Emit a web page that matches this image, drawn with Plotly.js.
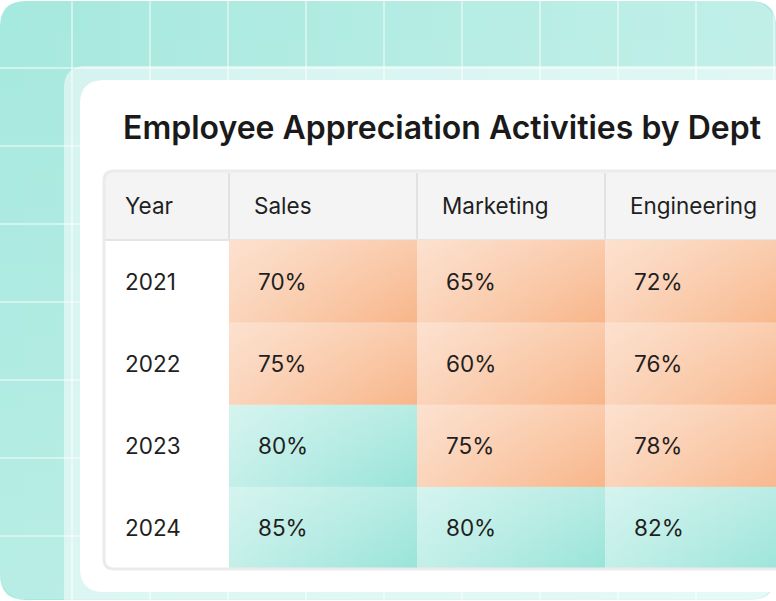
<!DOCTYPE html>
<html>
<head>
<meta charset="utf-8">
<script src="https://cdn.plot.ly/plotly-3.0.1.min.js"></script>
<style>html,body{margin:0;padding:0;background:#fff;}#chart{width:776px;height:601px;}</style>
</head>
<body>
<div id="chart"></div>
<script>
// ---- data ----
const chartTitle = "Employee Appreciation Activities by Dept";
const firstHeader = "Year";
const departments = ["Sales", "Marketing", "Engineering"];
const years = ["2021", "2022", "2023", "2024"];
const sales = [70, 75, 80, 85];
const marketing = [65, 60, 75, 80];
const engineering = [72, 76, 78, 82];

// ---- styling / geometry ----
const W = 776, H = 601;
const ORANGE = "#f8b68a", TEAL = "#99e4d9";
const FONT = "Inter, 'DejaVu Sans', sans-serif";
const TXT = "#1f1f1f";
const BODY_SIZE = 22.5;
const colW = 188;
const tbl = {left: 104, top: 171, headBottom: 240, bottom: 569, firstColRight: 229};

function P(x, y) { return (x / W).toFixed(5) + "," + (1 - y / H).toFixed(5); }
function rr(x0, y0, x1, y1, a, b, c, d) {
  return "M" + P(x0 + a, y0) + " L" + P(x1 - b, y0) + " Q" + P(x1, y0) + " " + P(x1, y0 + b) +
    " L" + P(x1, y1 - c) + " Q" + P(x1, y1) + " " + P(x1 - c, y1) +
    " L" + P(x0 + d, y1) + " Q" + P(x0, y1) + " " + P(x0, y1 - d) +
    " L" + P(x0, y0 + a) + " Q" + P(x0, y0) + " " + P(x0 + a, y0) + " Z";
}
function poly(pts) { return "M" + pts.map(p => P(p[0], p[1])).join(" L") + " Z"; }
function pathShape(p, fill, layer, line) {
  return {type: "path", xref: "paper", yref: "paper", path: p, fillcolor: fill,
    line: line || {width: 0}, layer: layer || "below"};
}
function lineShape(x0, y0, x1, y1, color, width, layer) {
  return {type: "line", xref: "paper", yref: "paper", x0: x0 / W, x1: x1 / W,
    y0: 1 - y0 / H, y1: 1 - y1 / H, line: {color: color, width: width}, layer: layer || "below"};
}

const shapes = [];
// ---- outer teal backdrop with a soft diagonal sheen ----
const BG = {x0: 0, y0: 1, x1: 776, y1: 600, r: 26};
function cornerOff(d) { return d <= 0 ? 0 : BG.r - Math.sqrt(Math.max(0, BG.r * BG.r - d * d)); }
function offAtX(x) { return cornerOff(x < BG.x0 + BG.r ? BG.x0 + BG.r - x : (x > BG.x1 - BG.r ? x - (BG.x1 - BG.r) : 0)); }
function offAtY(y) { return cornerOff(y < BG.y0 + BG.r ? BG.y0 + BG.r - y : (y > BG.y1 - BG.r ? y - (BG.y1 - BG.r) : 0)); }
shapes.push(pathShape(rr(BG.x0, BG.y0, BG.x1, BG.y1, BG.r, BG.r, BG.r, BG.r), "#a6e9df"));
const STEP = 8;
for (let xa = BG.x0; xa < BG.x1; xa += STEP) {
  const xb = Math.min(BG.x1, xa + STEP);
  const top = [], bot = [];
  for (let x = xa; x <= xb + 0.001; x += 2) { top.push([x, BG.y0 + offAtX(x)]); bot.unshift([x, BG.y1 - offAtX(x)]); }
  const a = 0.3 * ((xa + xb) / 2 - BG.x0) / (BG.x1 - BG.x0);
  shapes.push(pathShape(poly(top.concat(bot)), "rgba(255,255,255," + a.toFixed(4) + ")"));
}
for (let ya = BG.y0; ya < BG.y1; ya += STEP) {
  const yb = Math.min(BG.y1, ya + STEP);
  const left = [], right = [];
  for (let y = ya; y <= yb + 0.001; y += 2) { left.unshift([BG.x0 + offAtY(y), y]); right.push([BG.x1 - offAtY(y), y]); }
  const a = 0.2 * ((ya + yb) / 2 - BG.y0) / (BG.y1 - BG.y0);
  shapes.push(pathShape(poly(right.concat(left)), "rgba(255,255,255," + a.toFixed(4) + ")"));
}
// decorative grid
for (let x = 72; x < W; x += 78) shapes.push(lineShape(x, 0, x, H, "rgba(255,255,255,0.6)", 1.5));
for (let y = 68; y < H; y += 78) shapes.push(lineShape(0, y, W, y, "rgba(255,255,255,0.6)", 1.5));
// translucent panel
shapes.push(pathShape(rr(64, 66, 820, 640, 22, 22, 22, 22), "rgba(255,255,255,0.5)"));
// white card
shapes.push(pathShape(rr(80, 80, 820, 592, 24, 24, 24, 24), "#ffffff"));
// table header background + body
shapes.push(pathShape(rr(tbl.left, tbl.top, 820, tbl.bottom, 10, 10, 10, 10), "#f4f4f4"));
shapes.push(pathShape(rr(tbl.left, tbl.headBottom, 820, tbl.bottom, 0, 0, 10, 10), "#ffffff"));
shapes.push(lineShape(tbl.left, tbl.headBottom, W, tbl.headBottom, "#e4e4e4", 2));
// header dividers
for (let i = 0; i < departments.length; i++) {
  const xd = tbl.firstColRight + i * colW;
  shapes.push(lineShape(xd, tbl.top + 2, xd, tbl.headBottom - 1, "#e2e2e2", 2));
}
// table outline
shapes.push(pathShape(rr(tbl.left, tbl.top, 820, tbl.bottom, 10, 10, 10, 10), "rgba(0,0,0,0)", "above",
  {color: "#ebebeb", width: 3}));

// ---- traces ----
const deptIdx = departments.map((d, i) => i);
const yearIdx = years.map((y, i) => i);
const z = years.map((y, r) => [sales[r], marketing[r], engineering[r]]);

const traces = [{
  type: "heatmap", x: deptIdx, y: yearIdx, z: z,
  zmin: 60, zmax: 85,
  colorscale: [[0, ORANGE], [0.76, ORANGE], [0.76, TEAL], [1, TEAL]],
  showscale: false, hoverinfo: "skip", xgap: 0, ygap: 0
}];
// soft diagonal sheen on every cell
yearIdx.forEach(r => {
  deptIdx.forEach(c => {
    const xs = [c - 0.5, c + 0.5, c + 0.5, c - 0.5, c - 0.5];
    const ys = [r - 0.5, r - 0.5, r + 0.5, r + 0.5, r - 0.5];
    traces.push({type: "scatter", mode: "none", x: xs, y: ys, fill: "toself", hoverinfo: "skip",
      showlegend: false,
      fillgradient: {type: "horizontal", start: c - 0.5, stop: c + 0.5,
        colorscale: [[0, "rgba(255,255,255,0.42)"], [1, "rgba(255,255,255,0)"]]}});
    traces.push({type: "scatter", mode: "none", x: xs, y: ys, fill: "toself", hoverinfo: "skip",
      showlegend: false,
      fillgradient: {type: "vertical", start: r - 0.5, stop: r + 0.5,
        colorscale: [[0, "rgba(255,255,255,0.3)"], [1, "rgba(255,255,255,0)"]]}});
  });
});

// ---- text ----
const annotations = [];
annotations.push({xref: "paper", yref: "paper", x: 121 / W, y: 1 - 127 / H, xanchor: "left", yanchor: "middle",
  text: chartTitle, showarrow: false, font: {family: FONT, size: 32, weight: 600, color: "#1a1a1a"}});
const headY = 1 - ((tbl.top + tbl.headBottom) / 2) / H;
annotations.push({xref: "paper", yref: "paper", x: 123 / W, y: headY, xanchor: "left", yanchor: "middle",
  text: firstHeader, showarrow: false, font: {family: FONT, size: BODY_SIZE, color: TXT}});
departments.forEach((d, i) => {
  annotations.push({xref: "x", yref: "paper", x: i - 0.5, xshift: 23, y: headY, xanchor: "left", yanchor: "middle",
    text: d, showarrow: false, font: {family: FONT, size: BODY_SIZE, color: TXT}});
});
years.forEach((yv, r) => {
  annotations.push({xref: "paper", yref: "y", x: 123 / W, y: r, xanchor: "left", yanchor: "middle",
    text: yv, showarrow: false, font: {family: FONT, size: BODY_SIZE, color: TXT}});
  z[r].forEach((v, c) => {
    annotations.push({xref: "x", yref: "y", x: c - 0.5, xshift: 27, y: r, xanchor: "left", yanchor: "middle",
      text: v + "%", showarrow: false, font: {family: FONT, size: BODY_SIZE, color: TXT}});
  });
});

const layout = {
  width: W, height: H,
  margin: {l: 0, r: 0, t: 0, b: 0, pad: 0},
  paper_bgcolor: "#ffffff", plot_bgcolor: "rgba(0,0,0,0)",
  showlegend: false,
  xaxis: {domain: [tbl.firstColRight / W, 1], range: [-0.5, -0.5 + (W - tbl.firstColRight) / colW],
    visible: false, fixedrange: true},
  yaxis: {domain: [1 - tbl.bottom / H, 1 - tbl.headBottom / H], range: [years.length - 0.5, -0.5],
    visible: false, fixedrange: true},
  shapes: shapes,
  annotations: annotations
};
Plotly.newPlot("chart", traces, layout, {staticPlot: true, displayModeBar: false});
</script>
</body>
</html>
